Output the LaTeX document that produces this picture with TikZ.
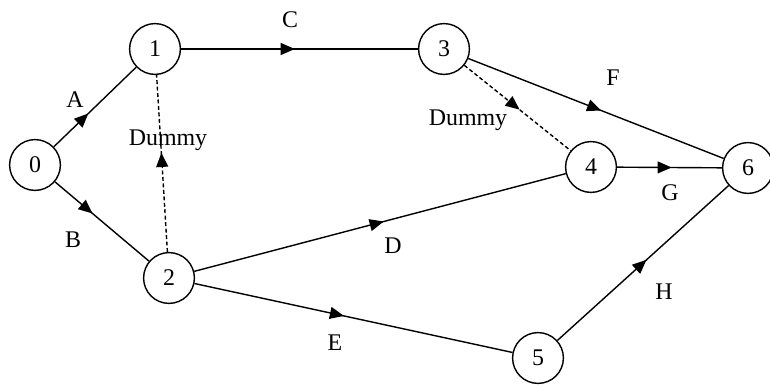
\documentclass[tikz,border=0pt]{standalone}
\usepackage{fontspec}
\setmainfont{Liberation Serif}
\usetikzlibrary{arrows.meta,decorations.markings}

\begin{document}
\begin{tikzpicture}[x=0.025cm,y=-0.025cm,
    event/.style={circle,draw,line width=1pt,minimum size=1.27cm,inner sep=0pt,font=\fontsize{17}{19}\selectfont},
    act/.style={line width=1pt,postaction={decorate},
        decoration={markings,mark=at position #1 with {\arrow{Triangle[length=10pt,width=8.5pt]}}}},
    act/.default=0.5,
    dummy/.style={act=#1,dash pattern=on 2.8pt off 1.8pt},
    dummy/.default=0.5,
    lbl/.style={font=\fontsize{17}{19}\selectfont}]
    \useasboundingbox (0,0) rectangle (770,385);
    % events
    \node[event] (n0) at (35,165) {0};
    \node[event] (n1) at (155,49) {1};
    \node[event] (n2) at (169,278) {2};
    \node[event] (n3) at (444,49) {3};
    \node[event] (n4) at (591,167) {4};
    \node[event] (n5) at (538,358) {5};
    \node[event] (n6) at (748,168) {6};
    % activities
    \draw[act=0.42] (n0) -- (n1);
    \draw[act=0.40] (n0) -- (n2);
    \draw[act=0.48] (n1) -- (n3);
    \draw[dummy=0.56] (n2) -- (n1);
    \draw[act=0.51] (n2) -- (n4);
    \draw[act=0.47] (n2) -- (n5);
    \draw[dummy=0.52] (n3) -- (n4);
    \draw[act=0.52] (n3) -- (n6);
    \draw[act=0.52] (n4) -- (n6);
    \draw[act=0.52] (n5) -- (n6);
    % labels
    \node[lbl] (lA) at (75,100) {A};
    \node[lbl] (lB) at (73,240) {B};
    \node[lbl] (lC) at (290,20) {C};
    \node[lbl] (lD) at (393,246) {D};
    \node[lbl] (lE) at (335,343) {E};
    \node[lbl] (lF) at (613,78) {F};
    \node[lbl] (lG) at (670,193) {G};
    \node[lbl] (lH) at (664,292) {H};
    \node[lbl] (ld1) at (168,140) {Dummy};
    \node[lbl] (ld2) at (468,120) {Dummy};
\end{tikzpicture}
\end{document}
